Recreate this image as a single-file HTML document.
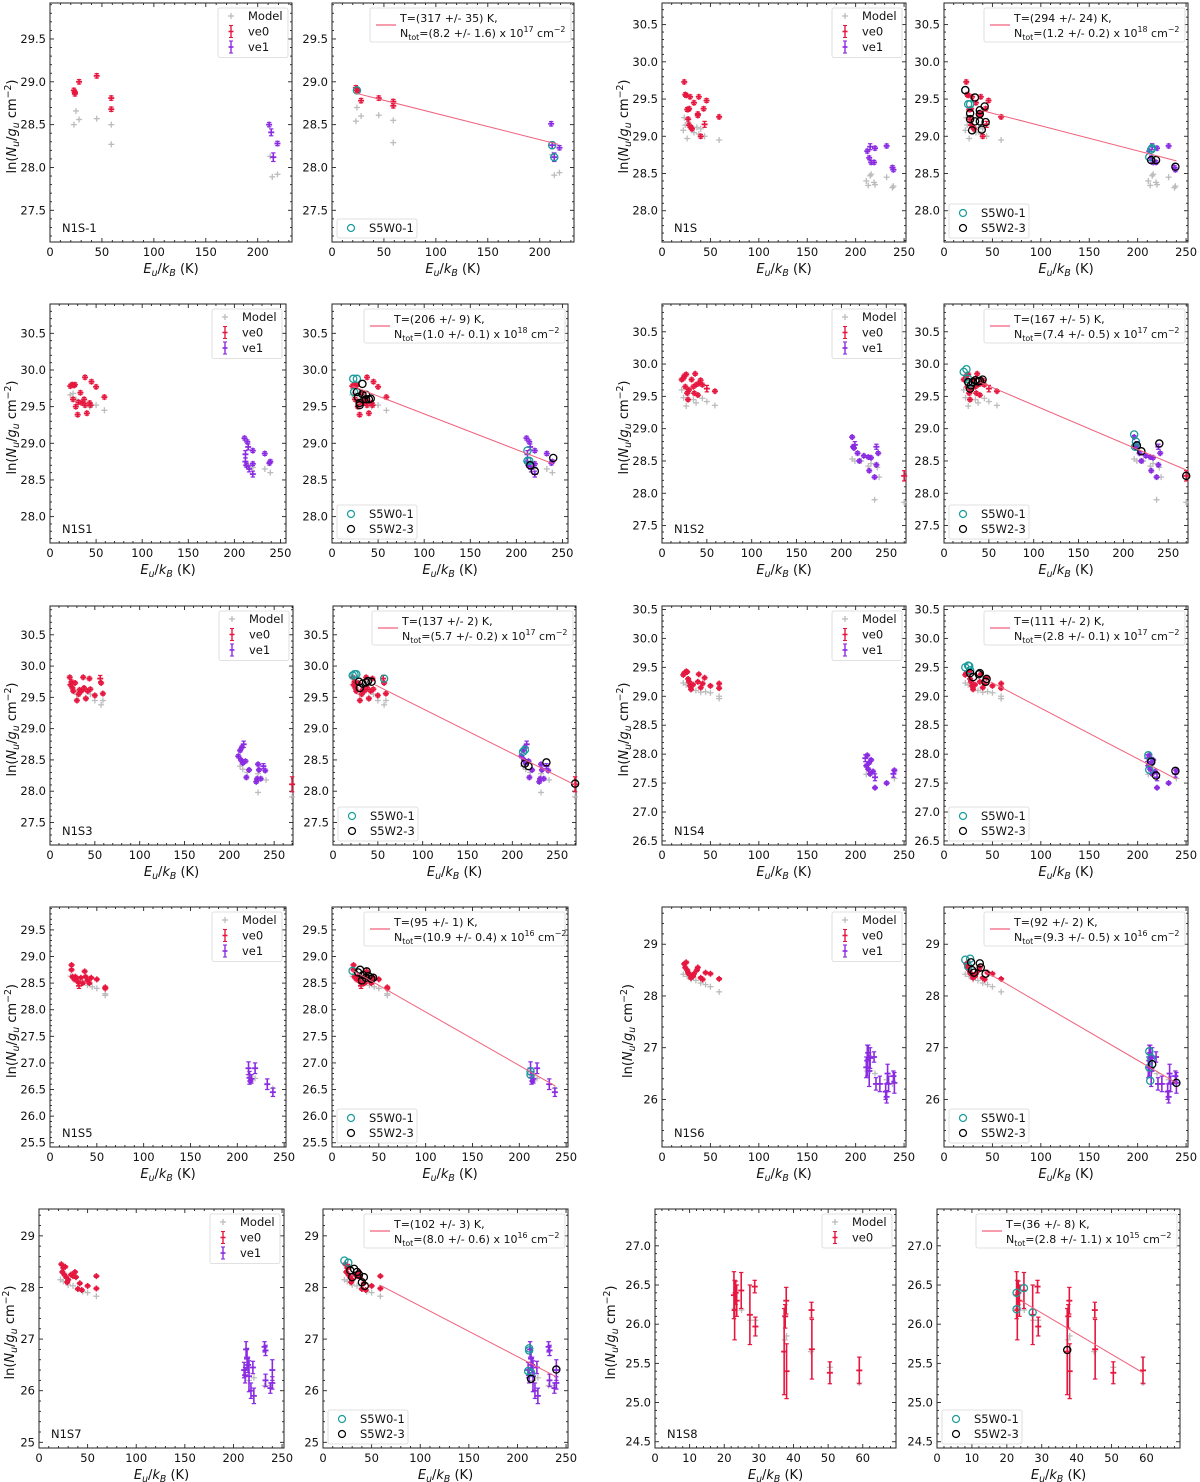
<!DOCTYPE html>
<html><head><meta charset="utf-8"><title>Rotation diagrams</title>
<style>
html,body{margin:0;padding:0;background:#fff;}
svg{display:block;font-family:"DejaVu Sans","Liberation Sans",sans-serif;}
</style></head>
<body>
<svg id="fig" width="1200" height="1482" viewBox="0 0 1200 1482" xmlns="http://www.w3.org/2000/svg">
<rect x="0" y="0" width="1200" height="1482" fill="#fff"/>
</svg>
<script>
// ---------------- DATA (x = Eu/kB in K, y = ln(Nu/gu), optional err) ----------------
const N1S_1_model = [[23,28.5],[25,28.66],[28,28.56],[45,28.57],[59,28.5],[59,28.27],[212,28.13],[214,27.89],[219,27.92]];
const N1S_1_ve0 = [[23,28.9],[24,28.86],[24,28.88],[28,29.0],[45,29.07],[59,28.81],[59,28.68]];
const N1S_1_ve1 = [[211,28.5],[213,28.41,0.04],[215,28.12,0.05],[219,28.28]];
const N1S_1f_model = [[23,28.54],[24,28.7],[28,28.6],[45,28.61],[59,28.55],[59,28.29],[212,28.15],[214,27.91],[219,27.94]];
const N1S_1f_ve0 = [[23,28.93],[24,28.9],[25,28.89],[28,28.78],[45,28.81],[59,28.77],[59,28.72]];
const N1S_1f_ve1 = [[211,28.51],[212,28.26,0.04],[214,28.12,0.05],[219,28.23]];
const N1S_1_cyan = [[24,28.9],[212,28.26],[214,28.12]];
const N1S_1_black = [];
const N1S_1_fitX = [22,218];
const N1S_1_fitY = [28.87,28.27];

const N1S_model = [[22,29.08],[23,29.25],[24,29.15],[26,28.97],[27,29.18],[30,29.1],[33,29.05],[36,29.12],[38,29.03],[40,29.1],[44,29.0],[59,28.95],[211,28.4],[213,28.34],[215,28.47],[216,28.49],[219,28.38],[220,28.35],[232,28.45],[238,28.31],[239,28.33]];
const N1S_ve0 = [[23,29.73],[24,29.56],[25,29.55],[26,29.36],[27,29.36],[28,29.37],[27,29.23],[28,29.15],[29,29.53],[30,29.12],[31,29.1],[33,29.45],[37,29.3],[37,29.28],[38,29.53],[40,29.0],[43,29.37],[44,29.16,0.04],[46,29.48],[59,29.26]];
const N1S_ve1 = [[212,28.8],[214,28.71],[215,28.86,0.04],[216,28.65],[220,28.84],[219,28.65],[232,28.87],[238,28.58],[239,28.55]];
const N1S_cyan = [[22,29.62],[25,29.43],[27,29.43],[212,28.72],[214,28.82],[215,28.84]];
const N1S_black = [[22,29.62],[27,29.31],[27,29.23],[29,29.08],[32,29.52],[32,29.2],[37,29.2],[37,29.35],[37,29.3],[39,29.09],[42,29.4],[43,29.19],[214,28.68],[219,28.68],[239,28.59]];
const N1S_fitX = [38,240];
const N1S_fitY = [29.35,28.67];

const N1S1_model = [[22,29.66],[25,29.68],[28,29.6],[35,29.57],[43,29.5],[50,29.52],[59,29.45],[212,28.75],[215,28.7],[220,28.67],[233,28.65],[239,28.6]];
const N1S1_ve0 = [[22,29.78],[24,29.8],[26,29.79],[27,29.8],[25,29.6],[28,29.5],[30,29.39],[31,29.56],[33,29.69],[35,29.55],[37,29.6],[38,29.9],[38,29.52],[40,29.41],[43,29.55],[44,29.52],[45,29.84],[50,29.77],[59,29.63]];
const N1S1_ve1 = [[211,29.07],[212,28.85,0.05],[212,28.75,0.05],[213,28.7],[214,29.02],[215,28.95,0.04],[216,28.65,0.04],[220,28.9],[220,28.72],[220,28.58,0.04],[233,28.86],[238,28.73],[239,28.75]];
const N1S1_cyan = [[23,29.88],[27,29.88],[24,29.7],[212,28.9],[212,28.76],[214,28.76]];
const N1S1_black = [[27,29.7],[28,29.63],[30,29.55],[30,29.52],[33,29.81],[33,29.67],[37,29.66],[37,29.6],[40,29.6],[42,29.61],[215,28.7],[220,28.62],[240,28.8]];
const N1S1_fitX = [22,240];
const N1S1_fitY = [29.78,28.72];

const N1S2_model = [[22,29.6],[24,29.48],[27,29.35],[30,29.55],[35,29.45],[38,29.4],[45,29.47],[50,29.42],[59,29.36],[212,28.53],[215,28.5],[222,28.5],[230,28.42],[233,28.46],[237,27.9],[240,28.4],[242,28.25],[270,27.86]];
const N1S2_ve0 = [[22,29.76],[24,29.78],[25,29.82],[26,29.65],[27,29.84],[28,29.55],[29,29.45],[30,29.6],[33,29.76],[35,29.65],[36,29.55],[37,29.85],[38,29.68],[40,29.52],[41,29.7],[43,29.75],[45,29.68],[50,29.62,0.05],[59,29.58],[270,28.27,0.08]];
const N1S2_ve1 = [[212,28.87],[213,28.72],[214,28.7],[215,28.75,0.05],[218,28.62],[220,28.5],[225,28.58],[230,28.56],[231,28.35],[233,28.55],[237,28.25],[239,28.72,0.04],[239,28.44],[241,28.62]];
const N1S2_cyan = [[22,29.88],[25,29.92],[27,29.77],[28,29.7],[212,28.91],[213,28.72],[214,28.8]];
const N1S2_black = [[27,29.72],[29,29.62],[30,29.67],[32,29.72],[35,29.75],[38,29.73],[40,29.74],[43,29.76],[215,28.74],[220,28.65],[240,28.77],[270,28.27]];
const N1S2_fitX = [40,270];
const N1S2_fitY = [29.72,28.36];

const N1S3_model = [[22,29.7],[25,29.65],[30,29.55],[35,29.6],[40,29.5],[45,29.55],[50,29.45],[57,29.38],[59,29.45],[212,28.4],[215,28.35],[220,28.3],[232,28.28],[232,27.98],[241,28.18],[270,27.91]];
const N1S3_ve0 = [[22,29.82],[23,29.7],[24,29.75],[25,29.65],[26,29.6],[28,29.73],[30,29.45],[32,29.55],[33,29.62],[35,29.6],[37,29.82],[38,29.65],[40,29.48],[42,29.6],[44,29.8],[45,29.63],[50,29.53],[56,29.8,0.05],[57,29.73],[59,29.56],[270,28.11,0.12]];
const N1S3_ve1 = [[210,28.56],[212,28.65],[213,28.5],[214,28.7],[215,28.45],[216,28.75,0.05],[218,28.48],[219,28.22],[222,28.34],[230,28.15],[231,28.2],[232,28.43],[233,28.34],[235,28.2],[238,28.4,0.04],[240,28.33]];
const N1S3_cyan = [[22,29.85],[24,29.87],[26,29.87],[57,29.8],[212,28.63],[214,28.66]];
const N1S3_black = [[29,29.75],[30,29.65],[33,29.72],[37,29.74],[39,29.76],[43,29.75],[214,28.44],[218,28.4],[238,28.46],[270,28.12]];
const N1S3_fitX = [47,270];
const N1S3_fitY = [29.7,28.1];

const N1S4_model = [[22,29.23],[25,29.2],[30,29.15],[35,29.1],[40,29.07],[45,29.08],[50,29.06],[59,28.96],[59,29.0],[211,27.65],[214,27.66],[220,27.6],[240,27.58]];
const N1S4_ve0 = [[22,29.37],[23,29.4],[25,29.43],[26,29.42],[27,29.3],[28,29.25],[29,29.18],[30,29.12],[32,29.2],[37,29.25],[38,29.38],[40,29.15],[42,29.22],[44,29.32],[50,29.18],[59,29.22],[59,29.14]];
const N1S4_ve1 = [[210,27.93,0.06],[211,27.8],[212,27.98],[213,27.74],[214,27.85],[215,27.66],[216,27.9],[218,27.7],[220,27.6,0.06],[220,27.42],[232,27.5],[239,27.66,0.06],[240,27.72]];
const N1S4_cyan = [[22,29.5],[25,29.53],[26,29.52],[27,29.45],[211,27.98],[212,27.73],[214,27.86]];
const N1S4_black = [[27,29.4],[30,29.33],[36,29.38],[37,29.4],[43,29.25],[44,29.3],[214,27.87],[219,27.63],[239,27.71]];
const N1S4_fitX = [48,240];
const N1S4_fitY = [29.25,27.57];

const N1S5_model = [[22,28.63],[27,28.6],[33,28.52],[40,28.46],[45,28.43],[50,28.4],[59,28.3],[59,28.27],[212,26.78],[214,26.75],[219,26.71],[238,26.52]];
const N1S5_ve0 = [[23,28.84],[23,28.75],[24,28.62],[26,28.57],[27,28.62],[28,28.6],[30,28.52],[31,28.45,0.05],[33,28.6],[35,28.5],[37,28.72],[38,28.62],[40,28.55],[42,28.5],[44,28.6],[50,28.57],[59,28.42],[59,28.4]];
const N1S5_ve1 = [[212,26.9,0.12],[213,26.72,0.12],[214,26.66],[215,26.7,0.08],[219,26.9,0.1],[232,26.6,0.1],[238,26.45,0.08]];
const N1S5_cyan = [[22,28.73],[212,26.84],[212,26.78]];
const N1S5_black = [[28,28.7],[30,28.75],[32,28.55],[33,28.65],[36,28.6],[37,28.72],[39,28.63],[42,28.58],[44,28.6]];
const N1S5_fitX = [22,238];
const N1S5_fitY = [28.74,26.57];

const N1S6_model = [[22,28.42],[26,28.38],[30,28.32],[35,28.3],[40,28.25],[45,28.22],[50,28.18],[59,28.08],[212,26.55],[215,26.55],[220,26.5],[232,26.38],[238,26.3]];
const N1S6_ve0 = [[23,28.62],[24,28.55],[25,28.65],[26,28.5],[27,28.45],[28,28.42],[30,28.35],[32,28.38],[33,28.43],[36,28.5],[37,28.55],[40,28.35],[42,28.32],[45,28.45],[50,28.43],[59,28.33]];
const N1S6_ve1 = [[211,26.62,0.2],[212,26.75,0.3],[213,26.9,0.15],[214,26.55,0.3],[215,26.8,0.2],[219,26.82,0.1],[221,26.3,0.12],[225,26.3,0.15],[231,26.15,0.15],[232,26.05,0.12],[233,26.5,0.18],[234,26.3,0.15],[239,26.45,0.1],[240,26.32,0.2]];
const N1S6_cyan = [[22,28.7],[25,28.57],[27,28.72],[212,26.93],[212,26.62],[213,26.36],[214,26.8]];
const N1S6_black = [[28,28.65],[29,28.5],[31,28.45],[37,28.63],[38,28.55],[43,28.43],[215,26.68],[240,26.32]];
const N1S6_fitX = [42,240];
const N1S6_fitY = [28.48,26.32];

const N1S7_model = [[22,28.15],[25,28.12],[30,28.05],[35,28.03],[40,27.98],[45,27.92],[50,27.9],[59,27.83],[212,26.3],[216,26.2],[221,26.25],[232,26.1],[238,26.1]];
const N1S7_ve0 = [[23,28.45],[24,28.3],[25,28.38],[26,28.25],[27,28.4],[28,28.2],[29,28.1],[30,28.15],[33,28.25],[35,28.22],[37,28.3],[38,28.2],[40,27.97],[42,28.08],[44,27.95],[50,28.03],[59,28.22],[59,27.98]];
const N1S7_ve1 = [[211,26.4,0.15],[212,26.3,0.15],[213,26.8,0.15],[214,26.62,0.2],[215,26.5,0.15],[216,26.28,0.3],[218,26.0,0.15],[220,26.45,0.12],[221,25.9,0.15],[232,26.85,0.1],[233,26.78,0.1],[233,26.2,0.12],[238,26.05,0.1],[240,26.4,0.2],[240,26.15,0.12]];
const N1S7_cyan = [[22,28.52],[26,28.48],[212,26.82],[212,26.78],[211,26.38],[214,26.35]];
const N1S7_black = [[28,28.33],[30,28.2],[32,28.36],[35,28.3],[37,28.25],[40,28.1],[42,28.2],[43,28.03],[214,26.23],[240,26.41]];
const N1S7_fitX = [58,240];
const N1S7_fitY = [28.05,26.27];

const N1S8_model = [[23,26.2],[25,26.18],[27.5,26.05],[29,26.05],[37.5,25.8],[38,25.85],[45,25.65],[50.5,25.45],[59,25.25]];
const N1S8_ve0 = [[22.8,26.37,0.3],[23,26.18,0.38],[23.3,26.4,0.15],[23.6,26.3,0.2],[24.9,26.43,0.23],[27.4,26.12,0.38],[28.8,26.48,0.08],[29,25.97,0.12],[37.3,25.65,0.55],[37.6,26.1,0.15],[37.9,26.3,0.17],[38,25.4,0.35],[45.2,26.18,0.1],[45.3,25.68,0.38],[50.5,25.38,0.14],[59,25.41,0.17]];
const N1S8_ve1 = [];
const N1S8_cyan = [[22.8,26.4],[22.8,26.19],[24.9,26.46],[27.4,26.15]];
const N1S8_black = [[37.3,25.67]];
const N1S8_fitX = [24,59];
const N1S8_fitY = [26.3,25.38];

// fit legend strings
const fitT = {N1S_1:"T=(317 +/- 35) K,",N1S:"T=(294 +/- 24) K,",N1S1:"T=(206 +/- 9) K,",N1S2:"T=(167 +/- 5) K,",N1S3:"T=(137 +/- 2) K,",N1S4:"T=(111 +/- 2) K,",N1S5:"T=(95 +/- 1) K,",N1S6:"T=(92 +/- 2) K,",N1S7:"T=(102 +/- 3) K,",N1S8:"T=(36 +/- 8) K,"};
const fitN = {N1S_1:["(8.2 +/- 1.6)","17"],N1S:["(1.2 +/- 0.2)","18"],N1S1:["(1.0 +/- 0.1)","18"],N1S2:["(7.4 +/- 0.5)","17"],N1S3:["(5.7 +/- 0.2)","17"],N1S4:["(2.8 +/- 0.1)","17"],N1S5:["(10.9 +/- 0.4)","16"],N1S6:["(9.3 +/- 0.5)","16"],N1S7:["(8.0 +/- 0.6)","16"],N1S8:["(2.8 +/- 1.1)","15"]};

// ---------------- LAYOUT ----------------
const R = [{t:3,b:242},{t:304,b:543},{t:606,b:845},{t:907,b:1147},{t:1209,b:1448}];
const panels = [
 {name:'N1S-1',key:'N1S_1',fit:false,x0:50,x1:292,r:0,xr:[0,233],yr:[27.13,29.92],yt:0.5,ym:0.1,xt:50,xm:10,yl:12,d:[N1S_1_model,N1S_1_ve0,N1S_1_ve1]},
 {name:'N1S-1',key:'N1S_1',fit:true,x0:332,x1:574,r:0,xr:[0,233],yr:[27.13,29.92],yt:0.5,ym:0.1,xt:50,xm:10,d:[N1S_1f_model,N1S_1f_ve0,N1S_1f_ve1],c:[N1S_1_cyan,N1S_1_black],f:[N1S_1_fitX,N1S_1_fitY]},
 {name:'N1S',key:'N1S',fit:false,x0:662,x1:906,r:0,xr:[0,252],yr:[27.58,30.79],yt:0.5,ym:0.1,xt:50,xm:10,yl:624,d:[N1S_model,N1S_ve0,N1S_ve1]},
 {name:'N1S',key:'N1S',fit:true,x0:944,x1:1188,r:0,xr:[0,252],yr:[27.58,30.79],yt:0.5,ym:0.1,xt:50,xm:10,d:[N1S_model,N1S_ve0,N1S_ve1],c:[N1S_cyan,N1S_black],f:[N1S_fitX,N1S_fitY]},

 {name:'N1S1',key:'N1S1',fit:false,x0:50,x1:286,r:1,xr:[0,256],yr:[27.64,30.9],yt:0.5,ym:0.1,xt:50,xm:10,yl:12,d:[N1S1_model,N1S1_ve0,N1S1_ve1]},
 {name:'N1S1',key:'N1S1',fit:true,x0:332,x1:568,r:1,xr:[0,256],yr:[27.64,30.9],yt:0.5,ym:0.1,xt:50,xm:10,d:[N1S1_model,N1S1_ve0,N1S1_ve1],c:[N1S1_cyan,N1S1_black],f:[N1S1_fitX,N1S1_fitY]},
 {name:'N1S2',key:'N1S2',fit:false,x0:662,x1:906,r:1,xr:[0,272],yr:[27.23,30.93],yt:0.5,ym:0.1,xt:50,xm:10,yl:624,d:[N1S2_model,N1S2_ve0,N1S2_ve1]},
 {name:'N1S2',key:'N1S2',fit:true,x0:944,x1:1188,r:1,xr:[0,272],yr:[27.23,30.93],yt:0.5,ym:0.1,xt:50,xm:10,d:[N1S2_model,N1S2_ve0,N1S2_ve1],c:[N1S2_cyan,N1S2_black],f:[N1S2_fitX,N1S2_fitY]},

 {name:'N1S3',key:'N1S3',fit:false,x0:50,x1:293,r:2,xr:[0,271],yr:[27.14,30.96],yt:0.5,ym:0.1,xt:50,xm:10,yl:12,d:[N1S3_model,N1S3_ve0,N1S3_ve1]},
 {name:'N1S3',key:'N1S3',fit:true,x0:333,x1:576,r:2,xr:[0,271],yr:[27.14,30.96],yt:0.5,ym:0.1,xt:50,xm:10,d:[N1S3_model,N1S3_ve0,N1S3_ve1],c:[N1S3_cyan,N1S3_black],f:[N1S3_fitX,N1S3_fitY]},
 {name:'N1S4',key:'N1S4',fit:false,x0:662,x1:906,r:2,xr:[0,252],yr:[26.43,30.56],yt:0.5,ym:0.1,xt:50,xm:10,yl:624,d:[N1S4_model,N1S4_ve0,N1S4_ve1]},
 {name:'N1S4',key:'N1S4',fit:true,x0:944,x1:1188,r:2,xr:[0,252],yr:[26.43,30.56],yt:0.5,ym:0.1,xt:50,xm:10,d:[N1S4_model,N1S4_ve0,N1S4_ve1],c:[N1S4_cyan,N1S4_black],f:[N1S4_fitX,N1S4_fitY]},

 {name:'N1S5',key:'N1S5',fit:false,x0:50,x1:286,r:3,xr:[0,252],yr:[25.42,29.93],yt:0.5,ym:0.1,xt:50,xm:10,yl:12,d:[N1S5_model,N1S5_ve0,N1S5_ve1]},
 {name:'N1S5',key:'N1S5',fit:true,x0:332,x1:568,r:3,xr:[0,252],yr:[25.42,29.93],yt:0.5,ym:0.1,xt:50,xm:10,d:[N1S5_model,N1S5_ve0,N1S5_ve1],c:[N1S5_cyan,N1S5_black],f:[N1S5_fitX,N1S5_fitY]},
 {name:'N1S6',key:'N1S6',fit:false,x0:662,x1:906,r:3,xr:[0,252],yr:[25.08,29.72],yt:1,ym:0.2,xt:50,xm:10,yl:628,d:[N1S6_model,N1S6_ve0,N1S6_ve1]},
 {name:'N1S6',key:'N1S6',fit:true,x0:944,x1:1188,r:3,xr:[0,252],yr:[25.08,29.72],yt:1,ym:0.2,xt:50,xm:10,d:[N1S6_model,N1S6_ve0,N1S6_ve1],c:[N1S6_cyan,N1S6_black],f:[N1S6_fitX,N1S6_fitY]},

 {name:'N1S7',key:'N1S7',fit:false,x0:39,x1:284,r:4,xr:[0,252],yr:[24.89,29.52],yt:1,ym:0.2,xt:50,xm:10,yl:10,d:[N1S7_model,N1S7_ve0,N1S7_ve1]},
 {name:'N1S7',key:'N1S7',fit:true,x0:323,x1:568,r:4,xr:[0,252],yr:[24.89,29.52],yt:1,ym:0.2,xt:50,xm:10,d:[N1S7_model,N1S7_ve0,N1S7_ve1],c:[N1S7_cyan,N1S7_black],f:[N1S7_fitX,N1S7_fitY]},
 {name:'N1S8',key:'N1S8',fit:false,x0:655,x1:896,r:4,xr:[0,69.6],yr:[24.42,27.47],yt:0.5,ym:0.1,xt:10,xm:2,yl:611,d:[N1S8_model,N1S8_ve0,N1S8_ve1]},
 {name:'N1S8',key:'N1S8',fit:true,x0:937,x1:1180,r:4,xr:[0,69.6],yr:[24.42,27.47],yt:0.5,ym:0.1,xt:10,xm:2,d:[N1S8_model,N1S8_ve0,N1S8_ve1],c:[N1S8_cyan,N1S8_black],f:[N1S8_fitX,N1S8_fitY]}
];

const RED='#e6173f', PUR='#8a2be2', GRAY='#bcbcbc', CYAN='#1a9b9b', FITC='#f0607c';
const FS='11.5px', FT='13px';
const NS='http://www.w3.org/2000/svg';
const svg=document.getElementById('fig');
function mk(tag, attrs, parent){const e=document.createElementNS(NS,tag);for(const k in attrs)e.setAttribute(k,attrs[k]);parent.appendChild(e);return e;}
function ln(p,x1,y1,x2,y2,c,w){return mk('line',{x1:x1,y1:y1,x2:x2,y2:y2,stroke:c,'stroke-width':w},p);}

function errPoint(g,x,y,yE,c){
  const e=mk('g',{},g);
  
  
  const top=Math.min(y-3,yE[0]), bot=Math.max(y+3,yE[1]);
  ln(e,x,top,x,bot,c,1.6);
  ln(e,x-2.2,yE[0],x+2.2,yE[0],c,1.2);
  ln(e,x-2.2,yE[1],x+2.2,yE[1],c,1.2);
  ln(e,x-3,y,x+3,y,c,1.8);
}
function plusPoint(g,x,y,c){
  const e=mk('g',{},g);
  
  
  ln(e,x-3,y,x+3,y,c,1.3);
  ln(e,x,y-3,x,y+3,c,1.3);
}
function sub(t,txt,dy){return mk('tspan',{'font-size':'0.72em',dy:dy},t);}

function drawPanel(p,idx){
  const y0=R[p.r].t, y1=R[p.r].b, x0=p.x0, x1=p.x1;
  const sx=v=>x0+(v-p.xr[0])/(p.xr[1]-p.xr[0])*(x1-x0);
  const sy=v=>y1-(v-p.yr[0])/(p.yr[1]-p.yr[0])*(y1-y0);
  const g=mk('g',{},svg);
  
  
  const fr=mk('rect',{x:x0,y:y0,width:x1-x0,height:y1-y0,fill:'none',stroke:'#222','stroke-width':1},g);
  
  
  const xa=mk('g',{},g);
  
  
  for(let i=Math.ceil(p.xr[0]/p.xm-1e-9);i*p.xm<=p.xr[1]+1e-9;i++){
    const v=i*p.xm, X=sx(v), maj=Math.abs(v/p.xt-Math.round(v/p.xt))<1e-6, L=maj?4:2;
    ln(xa,X,y1,X,y1-L,'#222',0.9); ln(xa,X,y0,X,y0+L,'#222',0.9);
    if(maj){const t=mk('text',{x:X,y:y1+14,'text-anchor':'middle','font-size':FS,fill:'#111'},xa);t.textContent=String(Math.round(v));
      
      }
  }
  const xt=mk('text',{x:(x0+x1)/2,y:y1+31,'text-anchor':'middle','font-size':FT,fill:'#111'},xa);
  
  
  let s=mk('tspan',{'font-style':'italic'},xt);s.textContent='E';
  s=sub(xt,'',3);s.setAttribute('font-style','italic');s.textContent='u';
  s=mk('tspan',{dy:-3},xt);s.textContent='/';
  s=mk('tspan',{'font-style':'italic'},xt);s.textContent='k';
  s=sub(xt,'',3);s.setAttribute('font-style','italic');s.textContent='B';
  s=mk('tspan',{dy:-3},xt);s.textContent=' (K)';
  const ya=mk('g',{},g);
  
  
  for(let i=Math.ceil(p.yr[0]/p.ym-1e-9);i*p.ym<=p.yr[1]+1e-9;i++){
    const v=i*p.ym, Y=sy(v), maj=Math.abs(v/p.yt-Math.round(v/p.yt))<1e-6, L=maj?4:2;
    ln(ya,x0,Y,x0+L,Y,'#222',0.9); ln(ya,x1,Y,x1-L,Y,'#222',0.9);
    if(maj){const t=mk('text',{x:x0-4,y:Y+4,'text-anchor':'end','font-size':FS,fill:'#111'},ya);t.textContent=p.yt<1?v.toFixed(1):v.toFixed(0);
      
      }
  }
  if(p.yl!==undefined){
    const cy=(y0+y1)/2;
    const yt=mk('text',{x:p.yl,y:cy,'text-anchor':'middle','font-size':FT,fill:'#111',transform:'rotate(-90 '+(p.yl+4)+' '+cy+')'},ya);
    
    
    let q=mk('tspan',{},yt);q.textContent='ln(';
    q=mk('tspan',{'font-style':'italic'},yt);q.textContent='N';
    q=sub(yt,'',3);q.setAttribute('font-style','italic');q.textContent='u';
    q=mk('tspan',{dy:-3},yt);q.textContent='/';
    q=mk('tspan',{'font-style':'italic'},yt);q.textContent='g';
    q=sub(yt,'',3);q.setAttribute('font-style','italic');q.textContent='u';
    q=mk('tspan',{dy:-3},yt);q.textContent=' cm';
    q=sub(yt,'',-5);q.textContent='\u22122';
    q=mk('tspan',{dy:5},yt);q.textContent=')';
  }
  const [model,ve0,ve1]=p.d;
  const gm=mk('g',{},g);
  
  
  model.forEach(d=>plusPoint(gm,sx(d[0]),sy(d[1]),GRAY));
  const g0=mk('g',{},g);
  
  
  ve0.forEach(d=>{const e=d[2]||0.025;errPoint(g0,sx(d[0]),sy(d[1]),[sy(d[1]+e),sy(d[1]-e)],RED);});
  const g1=mk('g',{},g);
  
  
  ve1.forEach(d=>{const e=d[2]||0.025;errPoint(g1,sx(d[0]),sy(d[1]),[sy(d[1]+e),sy(d[1]-e)],PUR);});
  if(p.fit){
    const [cy,bk]=p.c;
    const gc=mk('g',{},g);
    
    
    cy.forEach(d=>{const c=mk('circle',{cx:sx(d[0]),cy:sy(d[1]),r:3.6,fill:'none',stroke:CYAN,'stroke-width':1.3},gc);
      
      });
    const gb=mk('g',{},g);
    
    
    bk.forEach(d=>{const c=mk('circle',{cx:sx(d[0]),cy:sy(d[1]),r:3.6,fill:'none',stroke:'#000','stroke-width':1.3},gb);
      
      });
    const [fx,fy]=p.f;
    const fl=ln(g,sx(fx[0]),sy(fy[0]),sx(fx[1]),sy(fy[1]),FITC,1);
    
    
    const lg=mk('g',{},g);
    
    
    mk('rect',{x:x1-204,y:y0+5,width:201,height:34,rx:2,fill:'#fff','fill-opacity':0.85,stroke:'#d8d8d8','stroke-width':0.8},lg);
    ln(lg,x1-198,y0+22,x1-178,y0+22,FITC,1.2);
    const t1=mk('text',{x:x1-174,y:y0+19,'font-size':'11px',fill:'#111'},lg);t1.textContent=fitT[p.key];
    
    
    const t2=mk('text',{x:x1-174,y:y0+34,'font-size':'11px',fill:'#111'},lg);
    
    
    let q=mk('tspan',{},t2);q.textContent='N';
    q=sub(t2,'',3);q.textContent='tot';
    q=mk('tspan',{dy:-3},t2);q.textContent='='+fitN[p.key][0]+' x 10';
    q=sub(t2,'',-5);q.textContent=fitN[p.key][1];
    q=mk('tspan',{dy:5},t2);q.textContent=' cm';
    q=sub(t2,'',-5);q.textContent='\u22122';
    const cl=mk('g',{},g);
    
    
    const two=bk.length>0;
    const top=two?y1-38:y1-23;
    mk('rect',{x:x0+5,y:top,width:80,height:two?34:19,rx:2,fill:'#fff','fill-opacity':0.85,stroke:'#d8d8d8','stroke-width':0.8},cl);
    const rows=two?[[y1-29,CYAN,'S5W0-1'],[y1-14,'#000','S5W2-3']]:[[y1-14,CYAN,'S5W0-1']];
    rows.forEach(rw=>{mk('circle',{cx:x0+19,cy:rw[0],r:3.5,fill:'none',stroke:rw[1],'stroke-width':1.2},cl);
      const t=mk('text',{x:x0+37,y:rw[0]+4,'font-size':FS,fill:'#111'},cl);t.textContent=rw[2];
      
      });
  } else {
    const lg=mk('g',{},g);
    
    
    const ents=[['Model',GRAY,0],['ve0',RED,1]];
    if(ve1.length) ents.push(['ve1',PUR,1]);
    mk('rect',{x:x1-74,y:y0+5,width:70,height:ents.length*15.5+3,rx:2,fill:'#fff','fill-opacity':0.85,stroke:'#d8d8d8','stroke-width':0.8},lg);
    ents.forEach((e,i)=>{const cy=y0+13+i*15.5, cx=x1-61;
      if(e[2]){ln(lg,cx,cy-6,cx,cy+6,e[1],1.4);ln(lg,cx-2,cy-6,cx+2,cy-6,e[1],1.1);ln(lg,cx-2,cy+6,cx+2,cy+6,e[1],1.1);ln(lg,cx-2.5,cy,cx+2.5,cy,e[1],1.6);}
      else{ln(lg,cx-3,cy,cx+3,cy,e[1],1.3);ln(lg,cx,cy-3,cx,cy+3,e[1],1.3);}
      const t=mk('text',{x:x1-44,y:cy+4,'font-size':FS,fill:'#111'},lg);t.textContent=e[0];
      
      });
    const pl=mk('text',{x:x0+12,y:y1-10,'font-size':FS,fill:'#111'},g);pl.textContent=p.name;
    
    
  }
}
panels.forEach(drawPanel);
</script>
</body></html>
